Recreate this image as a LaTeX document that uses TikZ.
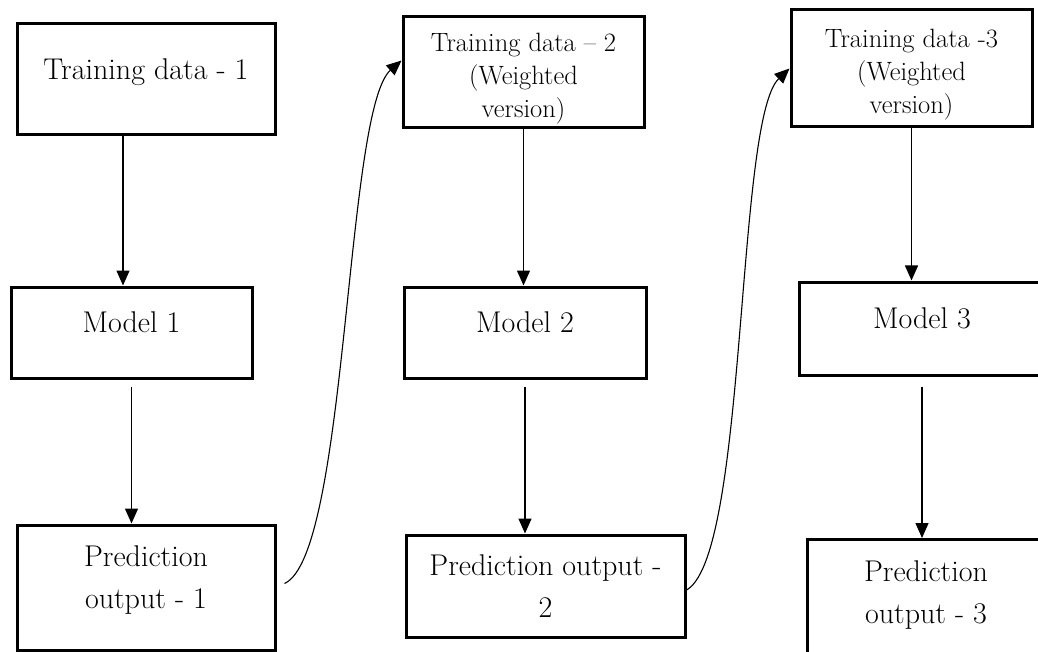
\documentclass[tikz,border=0pt]{standalone}
\usepackage{fontspec}
\usepackage{tikz}
\usetikzlibrary{arrows.meta}

\begin{document}
\begin{tikzpicture}[x=1pt, y=-1pt,
	box/.style={rectangle, draw, line width=3pt, align=center,
		font=\fontsize{30}{42}\selectfont},
	raised/.style={text depth=20pt},
	wbox/.style={box, font=\fontsize{26.5}{33}\selectfont, text height=96pt, inner ysep=1pt},
	arr/.style={-{Triangle[length=15pt, width=13pt]}, line width=1.4pt},
	feedback/.style={-{Triangle[length=15pt, width=13pt]}, line width=1.1pt}]

	\useasboundingbox (0,0) rectangle (1038,652);

	% first round
	\node[box, raised, minimum width=258pt, minimum height=111pt] (data1) at (146,79.5) {Training data - 1};
	\node[box, raised, minimum width=241pt, minimum height=91pt] (model1) at (131.5,332.5) {Model 1};
	\node[box, raised, minimum width=258pt, minimum height=125pt] (pred1) at (146,587.5) {Prediction\\output - 1};
	  \draw[arr] ([xshift=-23pt]data1.south) -- ([xshift=-23pt]data1.south |- model1.north);
	  \draw[arr] ([yshift=-7pt]model1.south) -- (model1.south |- pred1.north);

	% second round
	\node[wbox, minimum width=241pt, minimum height=111pt] (data2) at (523.5,72.5) {Training data -- 2\\(Weighted\\version)};
	\node[box, raised, minimum width=242pt, minimum height=91pt] (model2) at (525,332.5) {Model 2};
	\node[box, minimum width=279pt, minimum height=102pt] (pred2) at (545.5,586) {Prediction output -\\2};
	  \draw[arr] (data2.south) -- (data2.south |- model2.north);
	  \draw[arr] ([yshift=-7pt]model2.south) -- (model2.south |- pred2.north);

	% third round
	\node[wbox, minimum width=241pt, minimum height=117pt] (data3) at (911.5,68.5) {Training data -3\\(Weighted\\version)};
	\node[box, raised, minimum width=246pt, minimum height=93pt] (model3) at (922,328.5) {Model 3};
	\node[box, raised, minimum width=238pt, minimum height=125pt] (pred3) at (926,602) {Prediction\\output - 3};
	  \draw[arr] (data3.south) -- (data3.south |- model3.north);
	  \draw[arr] ([yshift=-10pt]model3.south) -- (model3.south |- pred3.north);

	% outputs feed the next training set
	\draw[feedback] ([shift={(8pt,4pt)}]pred1.east)
		.. controls (348,555) and (345,110) .. ([yshift=12pt]data2.west);
	\draw[feedback] ([shift={(-2pt,-5pt)}]pred2.east)
		.. controls (748,565) and (735,120) .. (data3.west);

\end{tikzpicture}
\end{document}
